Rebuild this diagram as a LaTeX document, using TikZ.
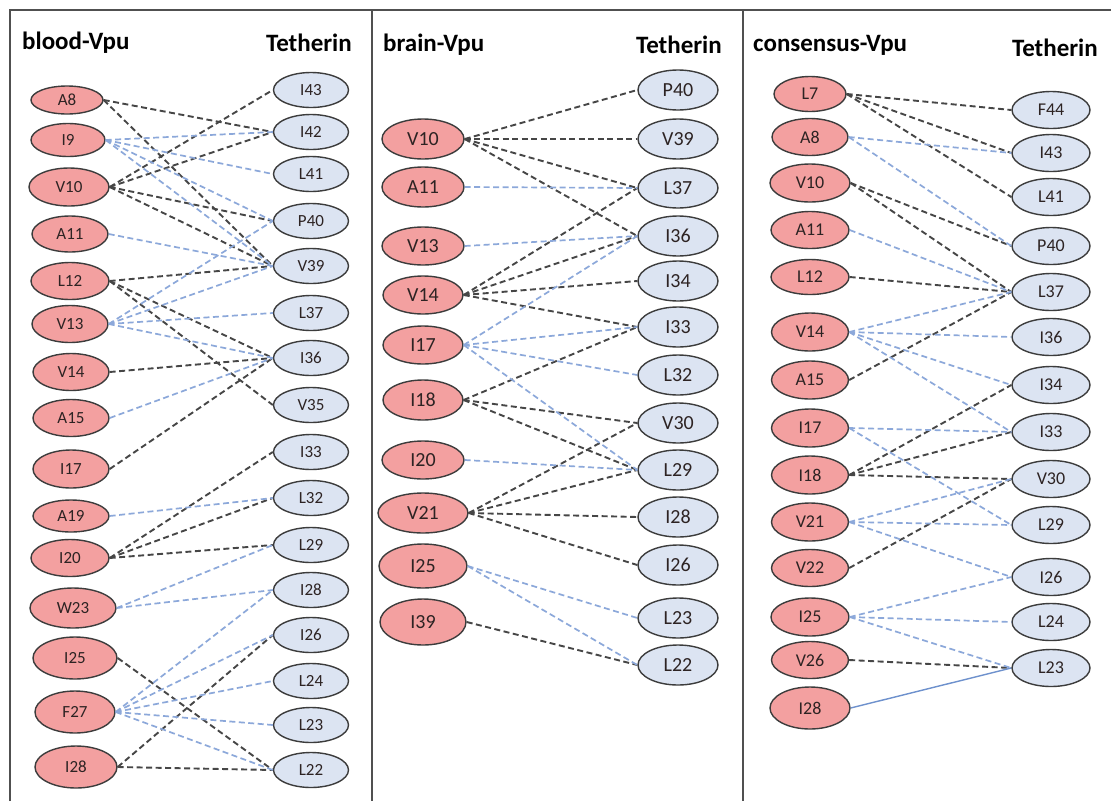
\documentclass[tikz,border=0pt]{standalone}
\usepackage{fontspec}
\setmainfont{Carlito}
\usetikzlibrary{shapes.geometric}

\definecolor{redf}{RGB}{243,160,160}
\definecolor{bluef}{RGB}{220,228,242}
\definecolor{bordc}{RGB}{60,60,60}
\definecolor{txtc}{RGB}{45,35,35}
\definecolor{blkc}{RGB}{70,70,70}
\definecolor{bluc}{RGB}{140,168,218}
\definecolor{solc}{RGB}{110,145,205}
\definecolor{framec}{RGB}{80,80,80}

\newcommand{\fa}{\fontsize{17}{19}\selectfont}
\newcommand{\fb}{\fontsize{20}{22}\selectfont}
\newcommand{\fc}{\fontsize{18}{20}\selectfont}
\newcommand{\ft}{\fontsize{25}{28}\selectfont\bfseries}

\begin{document}
\begin{tikzpicture}[x=1pt,y=-1pt,
  lnode/.style={ellipse, draw=bordc, line width=1.4pt, fill=redf, inner sep=0pt, text=txtc},
  rnode/.style={ellipse, draw=bordc, line width=1.4pt, fill=bluef, inner sep=0pt, text=txtc},
  blk/.style={draw=blkc, line width=1.9pt, dash pattern=on 6pt off 3.5pt},
  blu/.style={draw=bluc, line width=1.7pt, dash pattern=on 6pt off 3.5pt},
  sol/.style={draw=solc, line width=1.4pt},
  ttl/.style={font=\ft, text=black, inner sep=0pt}]
\useasboundingbox (0,0) rectangle (1111,801);
\fill[white] (0,0) rectangle (1111,801);

% frame and panel dividers
\draw[framec, line width=2.5pt] (10,801) -- (10,10) -- (1111,10);
\draw[framec, line width=2.5pt] (372,10) -- (372,801);
\draw[framec, line width=2.5pt] (743,10) -- (743,801);

% titles
\node[ttl, anchor=west] (t1) at (22,43) {blood-Vpu};
\node[ttl, anchor=east] (t2) at (352,43) {Tetherin};
\node[ttl, anchor=west] (t3) at (383,45) {brain-Vpu};
\node[ttl, anchor=east] (t4) at (722,45) {Tetherin};
\node[ttl, anchor=west] (t5) at (753,45) {consensus-Vpu};
\node[ttl, anchor=east] (t6) at (1098,48) {Tetherin};

% ---- blood-Vpu ----
\foreach \n/\x/\y/\w/\h in {A8/67/100/72/28, I9/68/140/74/33, V10/69/187/80/38, A11/70/234/76/36,
  L12/70/281/78/37, V13/70/324/76/37, V14/71/372/76/37, A15/71/418/76/37, I17/71/469/76/38,
  A19/71/516/76/32, I20/70/558/78/37, W23/73/608/86/40, I25/75/658/84/42, F27/75/712/80/42, I28/76/767/82/42}
  \node[lnode, font=\fa, minimum width=\w pt, minimum height=\h pt] (aL\n) at (\x,\y) {\n};
\foreach \n/\y in {I43/90, I42/132, L41/174, P40/221, V39/266, L37/313, I36/358, V35/405,
  I33/452, L32/498, L29/545, I28/590, I26/635, L24/681, L23/725, L22/770}
  \node[rnode, font=\fa, minimum width=75pt, minimum height=35pt] (aR\n) at (311,\y) {\n};

\foreach \a/\b in {A8/I42, A8/V39, V10/I43, V10/I42, V10/P40, V10/V39, L12/V39, L12/I36, L12/V35,
  V14/I36, I17/I36, I20/I33, I20/L32, I20/L29, I25/L22, I28/I26, I28/L22}
  \draw[blk] (aL\a.east) -- (aR\b.west);
\foreach \a/\b in {I9/I42, I9/L41, I9/P40, I9/V39, A11/V39, V13/P40, V13/V39, V13/L37, V13/I36,
  A15/I36, A19/L32, W23/L29, W23/I28, F27/I28, F27/I26, F27/L24, F27/L23, F27/L22}
  \draw[blu] (aL\a.east) -- (aR\b.west);

% ---- brain-Vpu ----
\foreach \n/\y/\w/\h in {V10/139/82/40, A11/187/82/40, V13/246/82/38, V14/295/80/38, I17/345/80/38,
  I18/400/80/40, I20/460/82/38, V21/513/90/40, I25/566/88/44, I39/622/86/46}
  \node[lnode, font=\fb, minimum width=\w pt, minimum height=\h pt] (bL\n) at (423,\y) {\n};
\foreach \n/\y in {P40/90, V39/139, L37/188, I36/236, I34/281, I33/327, L32/375, V30/423,
  L29/470, I28/517, I26/565, L23/618, L22/665}
  \node[rnode, font=\fb, minimum width=80pt, minimum height=40pt] (bR\n) at (678,\y) {\n};

\foreach \a/\b in {V10/P40, V10/V39, V10/L37, V10/I36, V14/L37, V14/I36, V14/I34, V14/I33,
  I18/I33, I18/V30, I18/L29, V21/V30, V21/L29, V21/I28, V21/I26, I39/L22}
  \draw[blk] (bL\a.east) -- (bR\b.west);
\foreach \a/\b in {A11/L37, V13/I36, I17/I36, I17/I33, I17/L32, I17/L29, I20/L29, I25/L23, I25/L22}
  \draw[blu] (bL\a.east) -- (bR\b.west);

% ---- consensus-Vpu ----
\foreach \n/\y/\w/\h in {L7/94/72/35, A8/137/76/37, V10/183/80/38, A11/230/78/37, L12/277/78/35,
  V14/332/77/38, A15/380/77/38, I17/428/77/38, I18/475/77/38, V21/522/77/38, V22/568/77/37,
  I25/617/78/38, V26/660/77/37, I28/708/80/42}
  \node[lnode, font=\fc, minimum width=\w pt, minimum height=\h pt] (cL\n) at (810,\y) {\n};
\foreach \n/\y in {F44/110, I43/153, L41/197, P40/246, L37/292, I36/337, I34/385, I33/432,
  V30/479, L29/525, I26/577, L24/622, L23/668}
  \node[rnode, font=\fc, minimum width=78pt, minimum height=37pt] (cR\n) at (1051,\y) {\n};

\foreach \a/\b in {L7/F44, L7/I43, L7/L41, V10/P40, V10/L37, L12/L37, A15/L37,
  I18/I34, I18/I33, I18/V30, V22/V30, V26/L23}
  \draw[blk] (cL\a.east) -- (cR\b.west);
\foreach \a/\b in {A8/I43, A8/P40, A11/L37, V14/L37, V14/I36, V14/I34, V14/I33, I17/I33, I17/L29,
  V21/V30, V21/L29, V21/I26, I25/I26, I25/L24, I25/L23}
  \draw[blu] (cL\a.east) -- (cR\b.west);
\draw[sol] (cLI28.east) -- (cRL23.west);
\end{tikzpicture}
\end{document}
